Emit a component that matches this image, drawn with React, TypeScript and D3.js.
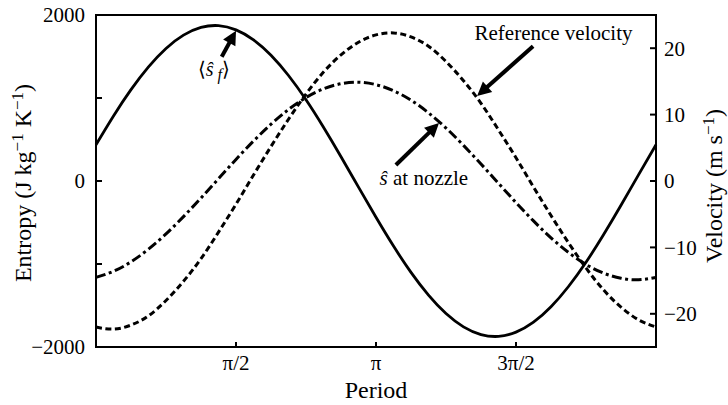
import React from "react";
import * as d3 from "d3";

// phase samples in units of π/16
const phaseSteps = [0,1,2,3,4,5,6,7,8,9,10,11,12,13,14,15,16,17,18,19,20,21,22,23,24,25,26,27,28,29,30,31,32];

// ⟨ŝ_f⟩ entropy (J kg-1 K-1), left axis, solid
const entropyMean = [437,784,1101,1375,1597,1757,1850,1872,1821,1701,1515,1271,979,648,293,-74,-437,-784,-1101,-1375,-1597,-1757,-1850,-1872,-1821,-1701,-1515,-1271,-979,-648,-293,74,437];

// ŝ at nozzle entropy, left axis, dash-dot
const entropyNozzle = [-1161,-1088,-974,-821,-638,-429,-205,28,260,481,684,861,1005,1110,1172,1190,1161,1088,974,821,638,429,205,-28,-260,-481,-684,-861,-1005,-1110,-1172,-1190,-1161];

// Reference velocity (m s-1), right axis, short dashes
const refVelocity = [-22.0,-22.3,-21.7,-20.3,-18.0,-15.1,-11.7,-7.7,-3.5,0.9,5.2,9.3,13.1,16.4,19.0,20.9,22.0,22.3,21.7,20.3,18.0,15.1,11.7,7.7,3.5,-0.9,-5.2,-9.3,-13.1,-16.4,-19.0,-20.9,-22.0];

const leftTicks = [-2000, -1000, 0, 1000, 2000];
const leftTickLabels = ["−2000", "", "0", "", "2000"];
const rightTicks = [-20, -10, 0, 10, 20];
const rightTickLabels = ["−20", "−10", "0", "10", "20"];
const periodTicks = [0.5, 1, 1.5]; // multiples of π
const periodTickLabels = ["π/2", "π", "3π/2"];

const FAM = "Times New Roman";

function T(props: any) {
  const { children, ...rest } = props;
  return (
    <text fontFamily={FAM} style={{ fontFamily: `"${FAM}"` }} {...rest}>
      {children}
    </text>
  );
}

function Arrow({ x0, y0, x1, y1 }: { x0: number; y0: number; x1: number; y1: number }) {
  const dx = x1 - x0, dy = y1 - y0;
  const len = Math.hypot(dx, dy);
  const ux = dx / len, uy = dy / len;
  const nx = -uy, ny = ux;
  const L = 14, w = 7;
  const bx = x1 - ux * L, by = y1 - uy * L;
  const pts = [
    [x1, y1],
    [bx + nx * w, by + ny * w],
    [bx - nx * w, by - ny * w],
  ];
  return (
    <g>
      <line x1={x0} y1={y0} x2={bx + ux * 2} y2={by + uy * 2} stroke="#000" strokeWidth={4} />
      <polygon points={pts.map((p) => p.join(",")).join(" ")} fill="#000" />
    </g>
  );
}

export default function App() {
  const W = 728, H = 405;
  const L = 96, R = 656, Tp = 15, B = 347;
  const x = d3.scaleLinear().domain([0, 2 * Math.PI]).range([L, R]);
  const yL = d3.scaleLinear().domain([-2000, 2000]).range([B, Tp]);
  const yR = d3.scaleLinear().domain([-25, 25]).range([B, Tp]);
  const ph = (k: number) => (k * Math.PI) / 16;

  const lineL = d3
    .line<number>()
    .x((_, i) => x(ph(phaseSteps[i])))
    .y((d) => yL(d))
    .curve(d3.curveNatural);
  const lineR = d3
    .line<number>()
    .x((_, i) => x(ph(phaseSteps[i])))
    .y((d) => yR(d))
    .curve(d3.curveNatural);

  const P = Math.PI;
  return (
    <svg width={W} height={H} style={{ position: "absolute", left: 0, top: 0, background: "#fff" }}>
      <rect x={0} y={0} width={W} height={H} fill="#fff" />
      {/* curves */}
      <path d={lineL(entropyMean) || ""} fill="none" stroke="#000" strokeWidth={2.8} />
      <path d={lineR(refVelocity) || ""} fill="none" stroke="#000" strokeWidth={3} strokeDasharray="6,3.5" />
      <path d={lineL(entropyNozzle) || ""} fill="none" stroke="#000" strokeWidth={3} strokeDasharray="10,3.5,3,3.5" />

      {/* frame */}
      <rect x={L} y={Tp} width={R - L} height={B - Tp} fill="none" stroke="#000" strokeWidth={2} />

      {/* left ticks */}
      {leftTicks.map((v, i) => (
        <g key={"l" + i}>
          <line x1={L} x2={L + 6} y1={yL(v)} y2={yL(v)} stroke="#000" strokeWidth={2} />
          {leftTickLabels[i] && (
            <T x={L - 11} y={yL(v)} dy="0.35em" textAnchor="end" fontSize={21}>
              {leftTickLabels[i]}
            </T>
          )}
        </g>
      ))}
      {/* right ticks */}
      {rightTicks.map((v, i) => (
        <g key={"r" + i}>
          <line x1={R - 6} x2={R} y1={yR(v)} y2={yR(v)} stroke="#000" strokeWidth={2} />
          <T x={R + 8} y={yR(v)} dy="0.35em" textAnchor="start" fontSize={21}>
            {rightTickLabels[i]}
          </T>
        </g>
      ))}
      {/* bottom ticks */}
      {periodTicks.map((v, i) => (
        <g key={"b" + i}>
          <line x1={x(v * P)} x2={x(v * P)} y1={B} y2={B - 5} stroke="#000" strokeWidth={2} />
          <T x={x(v * P)} y={370} textAnchor="middle" fontSize={21}>
            {periodTickLabels[i]}
          </T>
        </g>
      ))}

      {/* axis titles */}
      <T x={376} y={398} textAnchor="middle" fontSize={24}>Period</T>
      <T transform={`translate(31,183) rotate(-90)`} textAnchor="middle" fontSize={24}>
        Entropy (J kg<tspan dy={-8} fontSize={17}>−1</tspan>
        <tspan dy={8}> K</tspan>
        <tspan dy={-8} fontSize={17}>−1</tspan>
        <tspan dy={8}>)</tspan>
      </T>
      <T transform={`translate(722,186) rotate(-90)`} textAnchor="middle" fontSize={24}>
        Velocity (m s<tspan dy={-8} fontSize={17}>−1</tspan>
        <tspan dy={8}>)</tspan>
      </T>

      {/* annotations */}
      <Arrow x0={x(0.449 * P)} y0={yL(1498)} x1={x(0.5 * P)} y1={yL(1811)} />
      <T x={x(0.421 * P)} y={yL(1260)} textAnchor="middle" fontSize={20}>
        ⟨<tspan fontStyle="italic">ŝ</tspan>
        <tspan fontStyle="italic" fontSize={16} dy={4}> f</tspan>
        <tspan dy={-4}>⟩</tspan>
      </T>

      <Arrow x0={x(1.561 * P)} y0={yR(20.3)} x1={x(1.361 * P)} y1={yR(12.8)} />
      <T x={x(1.634 * P)} y={yR(21.3)} textAnchor="middle" fontSize={21}>
        Reference velocity
      </T>

      <Arrow x0={x(1.071 * P)} y0={yL(193)} x1={x(1.225 * P)} y1={yL(699)} />
      <T x={x(1.171 * P)} y={yL(-48)} textAnchor="middle" fontSize={21}>
        <tspan fontStyle="italic">ŝ</tspan> at nozzle
      </T>
    </svg>
  );
}
